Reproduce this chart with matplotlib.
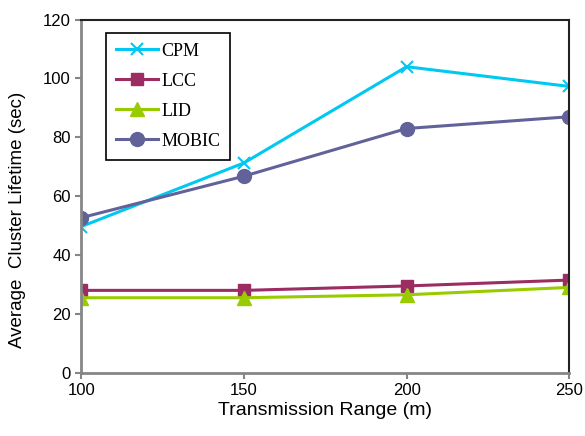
import matplotlib
matplotlib.use("Agg")
import matplotlib.pyplot as plt

# Data
ranges = [100, 150, 200, 250]
cpm = [49.7, 71.3, 104.0, 97.3]
lcc = [28.0, 28.0, 29.5, 31.5]
lid = [25.5, 25.5, 26.5, 29.0]
mobic = [52.7, 66.8, 83.0, 87.0]

fig = plt.figure(figsize=(5.85, 4.36), dpi=100)
ax = fig.add_axes([0.139, 0.145, 0.834, 0.81])

ax.plot(ranges, cpm, color='#00c8f0', marker='x', markersize=9, markeredgewidth=1.5,
        linewidth=2.2, label='CPM')
ax.plot(ranges, lcc, color='#9b2d62', marker='s', markersize=9, linewidth=2.2, label='LCC')
ax.plot(ranges, lid, color='#99cc00', marker='^', markersize=10, linewidth=2.2, label='LID')
ax.plot(ranges, mobic, color='#62629a', marker='o', markersize=10, linewidth=2.2, label='MOBIC')

ax.set_xlim(100, 250)
ax.set_ylim(0, 120)
ax.set_xticks([100, 150, 200, 250])
ax.set_yticks(range(0, 121, 20))
for s in ['left', 'bottom']:
    ax.spines[s].set_color('#868686')
    ax.spines[s].set_linewidth(2)
for s in ['top', 'right']:
    ax.spines[s].set_color('#222222')
    ax.spines[s].set_linewidth(1.5)
ax.tick_params(axis='both', colors='#868686', labelcolor='black', labelsize=12,
               length=4, width=1.5)
for lab in ax.get_xticklabels() + ax.get_yticklabels():
    lab.set_family('Liberation Sans')

ax.set_xlabel('Transmission Range (m)', fontsize=14, family='Liberation Sans', labelpad=3)
ax.set_ylabel('Average  Cluster Lifetime (sec)', fontsize=13.5, family='Liberation Sans')
ax.yaxis.set_label_coords(-0.113, 0.433)

# legend box sits inside the top-left of the plot area
leg = ax.legend(loc='upper left', bbox_to_anchor=(0.051, 0.963), borderaxespad=0,
                fancybox=False, edgecolor='black', framealpha=1,
                prop={'family': 'Liberation Serif', 'size': 13},
                handlelength=2.3, labelspacing=0.72, borderpad=0.55, handletextpad=0.2)
leg.get_frame().set_linewidth(1.2)

fig.savefig('out.png', dpi=100)
